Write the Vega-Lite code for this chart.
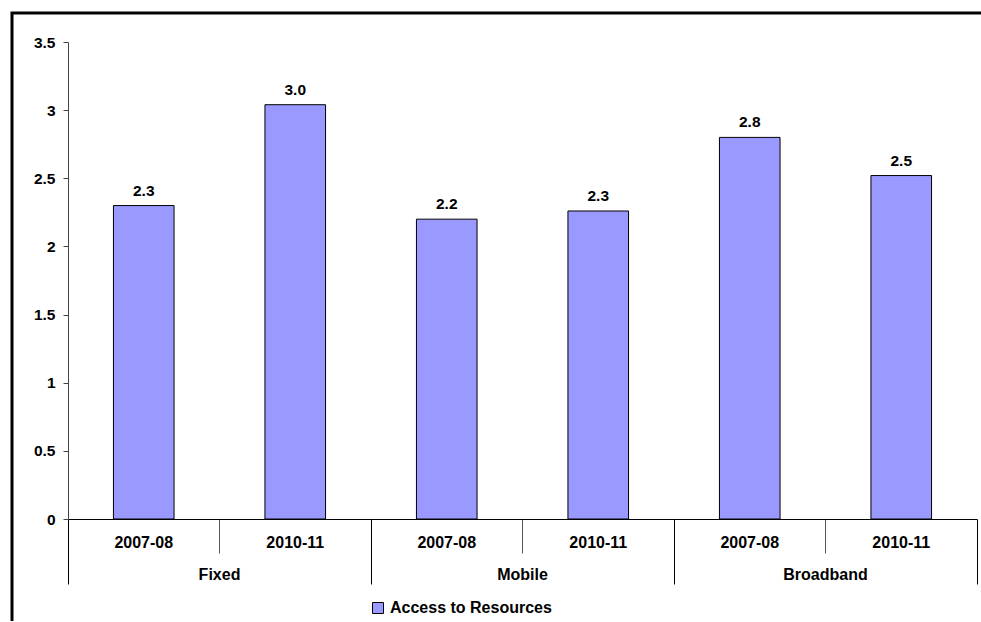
{
  "$schema": "https://vega.github.io/schema/vega-lite/v6.json",
  "autosize": "none",
  "padding": {"left": 12, "top": 13, "right": 0, "bottom": 0},
  "width": 969,
  "height": 609,
  "background": "white",
  "config": {
    "font": "Liberation Sans",
    "view": {"stroke": "black", "strokeWidth": 3, "strokeDash": [970, 1578, 610, 0], "fill": "white"}
  },
  "data": {
    "values": [
      {"key": "Fixed|2007-08", "group": "Fixed", "year": "2007-08", "value": 2.30, "series": "Access to Resources"},
      {"key": "Fixed|2010-11", "group": "Fixed", "year": "2010-11", "value": 3.04, "series": "Access to Resources"},
      {"key": "Mobile|2007-08", "group": "Mobile", "year": "2007-08", "value": 2.20, "series": "Access to Resources"},
      {"key": "Mobile|2010-11", "group": "Mobile", "year": "2010-11", "value": 2.26, "series": "Access to Resources"},
      {"key": "Broadband|2007-08", "group": "Broadband", "year": "2007-08", "value": 2.80, "series": "Access to Resources"},
      {"key": "Broadband|2010-11", "group": "Broadband", "year": "2010-11", "value": 2.52, "series": "Access to Resources"}
    ]
  },
  "resolve": {"axis": {"x": "independent"}},
  "layer": [
    {
      "mark": {"type": "bar", "stroke": "black", "strokeWidth": 1, "width": {"band": 0.4}},
      "encoding": {
        "x": {
          "field": "key", "type": "nominal", "sort": null,
          "scale": {"range": [56, 965], "paddingInner": 0, "paddingOuter": 0},
          "axis": {
            "title": null, "orient": "bottom", "offset": -103,
            "domain": true, "domainColor": "black", "domainWidth": 1,
            "bandPosition": 1, "tickExtra": true,
            "tickSize": {"condition": {"test": "datum.value && indexof(datum.value, '2007-08') >= 0", "value": 34}, "value": 65},
            "tickColor": {"condition": {"test": "datum.value && indexof(datum.value, '2007-08') >= 0", "value": "#555555"}, "value": "black"},
            "tickWidth": 1,
            "labelExpr": "split(datum.value, '|')[1]",
            "labelAngle": 0, "labelFontSize": 16, "labelFontWeight": "bold", "labelColor": "black",
            "labelPadding": {"condition": {"test": "datum.value && indexof(datum.value, '2007-08') >= 0", "value": -10.5}, "value": -41.5},
            "labelOverlap": false, "labelBound": false, "labelBaseline": "middle"
          }
        },
        "y": {
          "field": "value", "type": "quantitative",
          "scale": {"domain": [0, 3.5], "range": [506, 29], "nice": false, "zero": true},
          "axis": {
            "title": null, "orient": "left", "offset": -56,
            "values": [0, 0.5, 1, 1.5, 2, 2.5, 3, 3.5], "format": "~g",
            "grid": false, "domainColor": "#444444", "tickColor": "#444444", "tickSize": 5,
            "labelFontSize": 15.5, "labelFontWeight": "bold", "labelColor": "black", "labelPadding": 8
          }
        },
        "color": {
          "field": "series", "type": "nominal",
          "scale": {"range": ["#9999FF"]},
          "legend": {
            "title": null, "orient": "none", "legendX": 358, "legendY": 587,
            "symbolType": "square", "symbolSize": 121, "symbolStrokeColor": "black", "symbolStrokeWidth": 1,
            "symbolFillColor": "#9999FF", "symbolOpacity": 1, "labelLimit": 0,
            "labelFontSize": 16, "labelFontWeight": "bold", "labelColor": "black", "padding": 0, "labelOffset": 4
          }
        }
      }
    },
    {
      "mark": {"type": "text", "baseline": "bottom", "dy": -7, "fontSize": 15.5, "fontWeight": "bold", "color": "black"},
      "encoding": {
        "x": {
          "field": "key", "type": "nominal", "sort": null,
          "axis": {
            "title": null, "orient": "bottom", "offset": -103,
            "domain": false, "ticks": false,
            "labelExpr": "split(datum.value, '|')[1] == '2010-11' ? split(datum.value, '|')[0] : ''",
            "labelOffset": -75.75, "labelAngle": 0, "labelFontSize": 16, "labelFontWeight": "bold", "labelColor": "black",
            "labelPadding": 55, "labelOverlap": false, "labelBound": false, "labelBaseline": "middle"
          }
        },
        "y": {"field": "value", "type": "quantitative"},
        "text": {"field": "value", "type": "quantitative", "format": ".1f"}
      }
    }
  ]
}
